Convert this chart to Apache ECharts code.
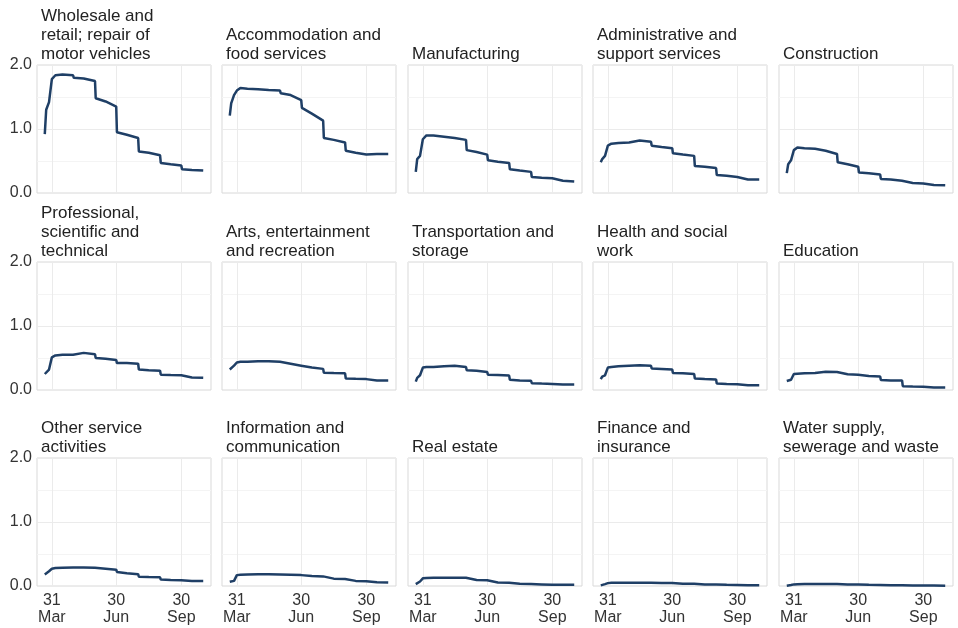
<!DOCTYPE html>
<html>
<head>
<meta charset="utf-8">
<script src="https://cdn.jsdelivr.net/npm/echarts@6/dist/echarts.min.js"></script>
<style>
  html, body { margin: 0; padding: 0; background: #fff; }
  #chart { width: 958px; height: 628px; }
</style>
</head>
<body>
<div id="chart"></div>
<script>
const DATES = ['2020-03-21', '2020-03-23', '2020-03-27', '2020-03-31', '2020-04-05', '2020-04-15',
    '2020-04-30', '2020-05-01', '2020-05-15', '2020-05-31', '2020-06-01', '2020-06-15', '2020-06-30',
    '2020-07-01', '2020-07-15', '2020-07-31', '2020-08-01', '2020-08-15', '2020-08-31', '2020-09-01',
    '2020-09-15', '2020-09-30', '2020-10-01', '2020-10-15', '2020-10-31'];

const TICK_DATES = ['2020-03-31', '2020-06-30', '2020-09-30'];
const TICK_LABELS = ['31\nMar', '30\nJun', '30\nSep'];
const Y_TICKS = [0, 1, 2];

const TITLES = [
    'Wholesale and\nretail; repair of\nmotor vehicles', 'Accommodation and\nfood services', 'Manufacturing',
    'Administrative and\nsupport services', 'Construction',
    'Professional,\nscientific and\ntechnical', 'Arts, entertainment\nand recreation', 'Transportation and\nstorage',
    'Health and social\nwork', 'Education',
    'Other service\nactivities', 'Information and\ncommunication', 'Real estate',
    'Finance and\ninsurance', 'Water supply,\nsewerage and waste'
];

const wholesale = [0.92, 1.30, 1.42, 1.78, 1.84, 1.85, 1.84, 1.80, 1.79, 1.75, 1.48, 1.43, 1.35, 0.95, 0.91, 0.86, 0.65, 0.63, 0.59, 0.47, 0.45, 0.43, 0.37, 0.36, 0.35];
const accommodation = [1.21, 1.40, 1.53, 1.60, 1.64, 1.63, 1.62, 1.62, 1.61, 1.60, 1.56, 1.53, 1.45, 1.33, 1.24, 1.13, 0.86, 0.83, 0.79, 0.66, 0.63, 0.60, 0.61, 0.61, 0.61];
const manufacturing = [0.33, 0.53, 0.58, 0.84, 0.90, 0.90, 0.88, 0.88, 0.86, 0.83, 0.67, 0.64, 0.60, 0.51, 0.49, 0.47, 0.37, 0.35, 0.33, 0.25, 0.24, 0.23, 0.20, 0.19, 0.18];
const administrative = [0.48, 0.53, 0.58, 0.74, 0.77, 0.78, 0.79, 0.82, 0.82, 0.80, 0.74, 0.72, 0.70, 0.62, 0.60, 0.58, 0.42, 0.41, 0.39, 0.28, 0.27, 0.25, 0.22, 0.21, 0.21];
const construction = [0.31, 0.45, 0.51, 0.67, 0.71, 0.70, 0.69, 0.68, 0.66, 0.61, 0.48, 0.45, 0.41, 0.32, 0.31, 0.29, 0.22, 0.21, 0.19, 0.16, 0.155, 0.15, 0.13, 0.125, 0.12];

const professional = [0.25, 0.28, 0.32, 0.51, 0.54, 0.55, 0.55, 0.58, 0.58, 0.56, 0.50, 0.49, 0.47, 0.42, 0.42, 0.41, 0.32, 0.31, 0.30, 0.24, 0.235, 0.23, 0.20, 0.195, 0.19];
const arts = [0.32, 0.35, 0.38, 0.43, 0.44, 0.44, 0.45, 0.45, 0.45, 0.44, 0.43, 0.41, 0.38, 0.37, 0.35, 0.33, 0.27, 0.265, 0.26, 0.18, 0.175, 0.17, 0.145, 0.15, 0.15];
const transport = [0.13, 0.19, 0.23, 0.35, 0.36, 0.36, 0.37, 0.38, 0.38, 0.36, 0.31, 0.30, 0.28, 0.24, 0.235, 0.225, 0.16, 0.15, 0.145, 0.105, 0.10, 0.095, 0.085, 0.085, 0.085];
const health = [0.17, 0.21, 0.23, 0.35, 0.36, 0.37, 0.38, 0.385, 0.385, 0.38, 0.335, 0.33, 0.32, 0.265, 0.26, 0.25, 0.18, 0.17, 0.165, 0.10, 0.095, 0.09, 0.075, 0.075, 0.075];
const education = [0.14, 0.15, 0.16, 0.25, 0.255, 0.26, 0.265, 0.29, 0.285, 0.28, 0.25, 0.245, 0.24, 0.225, 0.22, 0.21, 0.155, 0.15, 0.15, 0.06, 0.055, 0.05, 0.04, 0.04, 0.04];

const otherServices = [0.18, 0.205, 0.23, 0.27, 0.28, 0.285, 0.29, 0.29, 0.29, 0.285, 0.275, 0.27, 0.255, 0.22, 0.20, 0.185, 0.145, 0.14, 0.135, 0.10, 0.095, 0.09, 0.085, 0.08, 0.08];
const information = [0.065, 0.075, 0.08, 0.17, 0.175, 0.18, 0.185, 0.185, 0.185, 0.18, 0.175, 0.175, 0.17, 0.16, 0.155, 0.15, 0.12, 0.115, 0.11, 0.085, 0.08, 0.075, 0.06, 0.06, 0.055];
const realEstate = [0.03, 0.05, 0.07, 0.12, 0.125, 0.13, 0.13, 0.13, 0.13, 0.13, 0.10, 0.095, 0.09, 0.06, 0.055, 0.05, 0.035, 0.035, 0.03, 0.025, 0.025, 0.02, 0.02, 0.02, 0.02];
const finance = [0.01, 0.02, 0.03, 0.045, 0.05, 0.05, 0.05, 0.05, 0.05, 0.05, 0.045, 0.045, 0.045, 0.035, 0.035, 0.035, 0.025, 0.025, 0.025, 0.018, 0.018, 0.015, 0.012, 0.012, 0.012];
const water = [0.005, 0.01, 0.015, 0.025, 0.028, 0.03, 0.03, 0.03, 0.03, 0.03, 0.025, 0.025, 0.022, 0.018, 0.018, 0.016, 0.012, 0.012, 0.01, 0.008, 0.008, 0.007, 0.006, 0.006, 0.005];

const SERIES_VALUES = [
    wholesale, accommodation, manufacturing, administrative, construction,
    professional, arts, transport, health, education,
    otherServices, information, realEstate, finance, water
];

const COL_LEFT = [37, 222, 408, 593, 779];
const ROW_TOP = [65, 262, 458];
const PANEL_W = 174;
const PANEL_H = 128;
const LINE_COLOR = '#1f3f66';
const FONT = "'Liberation Sans', Arial, sans-serif";

const toMs = d => Date.parse(d + 'T00:00:00Z');
const TICK_MS = TICK_DATES.map(toMs);
const X_MIN = toMs('2020-03-10');
const X_MAX = toMs('2020-11-11');

const chart = echarts.init(document.getElementById('chart'));

const grids = [];
const xAxes = [];
const yAxes = [];
const titles = [];
const series = [];

SERIES_VALUES.forEach((vals, i) => {
    const row = Math.floor(i / 5);
    const col = i % 5;
    const left = COL_LEFT[col];
    const top = ROW_TOP[row];

    grids.push({
        left: left,
        top: top,
        width: PANEL_W,
        height: PANEL_H,
        show: true,
        borderColor: '#d9d9d9',
        borderWidth: 1,
        backgroundColor: 'transparent'
    });

    xAxes.push({
        gridIndex: i,
        type: 'value',
        min: X_MIN,
        max: X_MAX,
        axisLine: { show: false },
        axisTick: { show: false, customValues: TICK_MS },
        axisLabel: {
            show: row === 2,
            customValues: TICK_MS,
            formatter: v => {
                const k = TICK_MS.indexOf(v);
                return k >= 0 ? TICK_LABELS[k] : '';
            },
            fontFamily: FONT,
            fontSize: 16,
            lineHeight: 17,
            color: '#333',
            margin: 6
        },
        splitLine: { show: true, lineStyle: { color: '#ebebeb', width: 1 } }
    });

    yAxes.push({
        gridIndex: i,
        type: 'value',
        min: Y_TICKS[0],
        max: Y_TICKS[Y_TICKS.length - 1],
        interval: 1,
        axisLine: { show: false },
        axisTick: { show: false },
        axisLabel: {
            show: col === 0,
            formatter: v => v.toFixed(1),
            fontFamily: FONT,
            fontSize: 16,
            color: '#333',
            margin: 5
        },
        splitLine: { show: true, lineStyle: { color: '#ebebeb', width: 1 } },
        minorTick: { show: false, splitNumber: 2 },
        minorSplitLine: { show: true, lineStyle: { color: '#f4f4f4', width: 1 } }
    });

    titles.push({
        text: TITLES[i],
        left: left + 4,
        bottom: 628 - top + 1,
        padding: 0,
        textStyle: {
            fontFamily: FONT,
            fontSize: 17,
            lineHeight: 19,
            fontWeight: 'normal',
            color: '#222'
        }
    });

    series.push({
        type: 'line',
        xAxisIndex: i,
        yAxisIndex: i,
        data: DATES.map((d, j) => [toMs(d), vals[j]]),
        showSymbol: false,
        silent: true,
        lineStyle: { color: LINE_COLOR, width: 2.5 },
        itemStyle: { color: LINE_COLOR }
    });
});

chart.setOption({
    animation: false,
    backgroundColor: '#fff',
    title: titles,
    grid: grids,
    xAxis: xAxes,
    yAxis: yAxes,
    series: series
});
</script>
</body>
</html>
